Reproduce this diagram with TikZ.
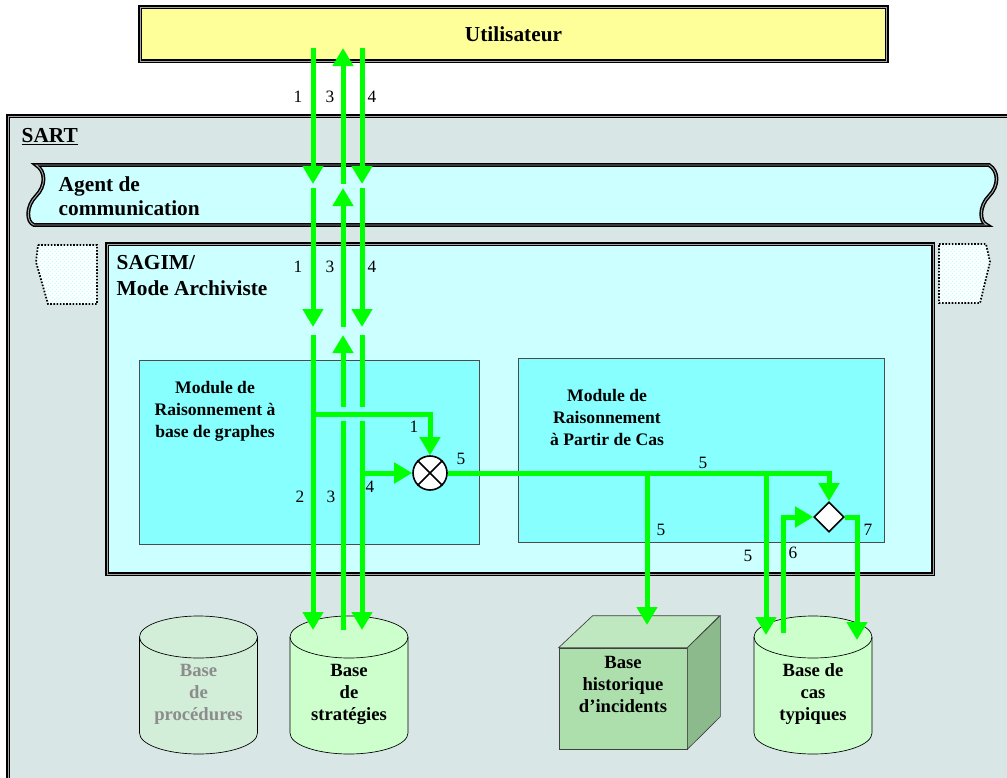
\documentclass[tikz,border=0pt]{standalone}
\usepackage{fontspec}
\setmainfont{Liberation Serif}
\usetikzlibrary{arrows.meta,shapes.geometric,patterns}
\definecolor{sartbg}{HTML}{D8E6E6}
\definecolor{pale}{HTML}{CCFFFF}
\definecolor{modbg}{HTML}{88FFFF}
\definecolor{userbg}{HTML}{FFFF99}
\definecolor{flowgreen}{HTML}{00FF00}
\definecolor{dbgreen}{HTML}{CCFFCC}
\definecolor{dbfaded}{HTML}{D2EED8}
\definecolor{textfade}{HTML}{8C8C8C}
\definecolor{cubefront}{HTML}{ADDFAD}
\definecolor{cubetop}{HTML}{C0E8C0}
\definecolor{cubeside}{HTML}{8CBA8C}

\begin{document}
\begin{tikzpicture}[x=0.75pt,y=-0.75pt,>={Triangle[width=15pt,length=13.5pt]},
  frame/.style={draw=black,double=gray!70,double distance=0.7pt,line width=1.1pt},
  box/.style={rectangle,inner sep=0pt},
  module/.style={box,draw=gray!60!black,line width=0.6pt,fill=modbg},
  flow/.style={->,draw=flowgreen,line width=3.75pt},
  hatch/.style={draw=black,dash pattern=on 1.2pt off 1.2pt,line width=1.3pt,preaction={fill=white},pattern=north east lines,pattern color=cyan!30},
  num/.style={font=\fontsize{13}{15}\selectfont},
  title/.style={font=\fontsize{16}{18}\selectfont\bfseries,align=left},
  modtext/.style={font=\fontsize{13.2}{16.5}\selectfont\bfseries,align=center},
  dbtext/.style={font=\fontsize{14}{16.5}\selectfont\bfseries,align=center}]

\useasboundingbox (0,0) rectangle (1007,778);

\node[box,frame,fill=sartbg,minimum width=759pt,minimum height=499.5pt] (sart) at (514,449) {};
\node[title,anchor=west] (sartlbl) at (17,137) {\underline{SART}};

\filldraw[frame,fill=pale] (36,165) -- (989,165) .. controls (999,171) and (999,186) .. (989,196)
  .. controls (979,206) and (979,222) .. (987,225) -- (34,225) .. controls (26,222) and (26,206) .. (36,196)
  .. controls (46,186) and (46,171) .. (36,165) -- cycle;
\node[title,anchor=west] (agent) at (54,196) {Agent de\\communication};

\draw[hatch] (38,245) -- (97,245) -- (97,304) -- (48,304) -- (36,262) -- cycle;
\draw[hatch] (939,244) -- (986,244) -- (990,262) -- (980,303) -- (939,303) -- cycle;

\node[box,frame,fill=pale,minimum width=619.5pt,minimum height=247.5pt] (sagim) at (520,409) {};
\node[title,anchor=west,font=\fontsize{16}{19.5}\selectfont\bfseries] (sagimlbl) at (112,276) {SAGIM/\\Mode Archiviste};

\node[module,minimum width=255pt,minimum height=138pt] (mrg) at (309,452) {};
\node[modtext] (mrgtxt) at (215,411) {Module de\\Raisonnement à\\base de graphes};
\node[module,minimum width=274.5pt,minimum height=138pt] (mrc) at (701,450) {};
\node[modtext] (mrctxt) at (607,417) {Module de\\Raisonnement\\à Partir de Cas};

\foreach \nm/\cx/\fc/\tc/\txt in {proc/198.5/dbfaded/textfade/{Base\\de\\procédures},
    strat/349/dbgreen/black/{Base\\de\\stratégies},cas/813/dbgreen/black/{Base de\\cas\\typiques}}{
  \filldraw[fill=\fc,draw=black,line width=0.5pt] ({\cx-59},637) -- ({\cx-59},733)
    arc[start angle=180,end angle=0,x radius=59,y radius=21] -- ({\cx+59},637)
    arc[start angle=0,end angle=-180,x radius=59,y radius=21] -- cycle;
  \draw[line width=0.5pt] ({\cx-59},637) arc[start angle=180,end angle=0,x radius=59,y radius=21];
  \node[dbtext,text=\tc] (\nm) at (\cx,694) {\txt};
}

\node[box,draw=gray!50!black,line width=0.5pt,fill=cubefront,minimum width=96pt,minimum height=75.75pt] (hist) at (623,698.5) {};
\filldraw[fill=cubetop,draw=gray!50!black,line width=0.5pt] (hist.north west) -- ++(34,-32) -- ++(127,0) -- (hist.north east) -- cycle;
\filldraw[fill=cubeside,draw=gray!50!black,line width=0.5pt] (hist.north east) -- ++(33,-32) -- ++(0,101) -- (hist.south east) -- cycle;
\node[dbtext] (histtxt) at (623,684) {Base\\historique\\d’incidents};

\node[box,frame,fill=userbg,minimum width=560pt,minimum height=40.5pt,font=\fontsize{16}{18}\selectfont\bfseries] (user) at (513.5,34) {Utilisateur};

\node[circle,draw,fill=white,line width=1.2pt,minimum size=25.5pt,inner sep=0pt] (mix) at (430,473) {};
\draw[line width=1.2pt] (mix.north west) -- (mix.south east) (mix.north east) -- (mix.south west);
\node[diamond,draw,fill=white,line width=1.2pt,minimum width=22.5pt,minimum height=22.5pt,inner sep=0pt] (dia) at (829,517) {};

\foreach \c/\x in {1/313,3/343,4/362}{
  \coordinate (t\c) at (\x,48);
  \coordinate (u\c) at (\x,184);
  \coordinate (v\c) at (\x,188);
  \coordinate (w\c) at (\x,327);
  \coordinate (y\c) at (\x,335);
  \coordinate (z\c) at (\x,630);
}
\coordinate (j1) at (313,414);
\coordinate (j4) at (362,473);
\coordinate (h5) at (647,625);
\coordinate (k5) at (766,635);
\coordinate (s6) at (783,633);
\coordinate (e7) at (857,640);

\draw[flow] (t1) -- (u1);
\draw[flow] (u3) -- (t3);
\draw[flow] (t4) -- (u4);
\draw[flow] (v1) -- (w1);
\draw[flow] (w3) -- (v3);
\draw[flow] (v4) -- (w4);
\draw[flow] (z3) -- (y3);
\draw[flow] (y4) -- (z4);
\draw[flow,preaction={draw=modbg,line width=10.5pt}] (j1) -| (mix);
\draw[flow] (y1) -- (z1);
\draw[flow] (j4) -- (mix);
\draw[flow] (mix) -| (dia);
\draw[flow] (h5 |- mix) -- (h5);
\draw[flow] (k5 |- mix) -- (k5);
\draw[flow] (s6) |- (dia);
\draw[flow] (dia) -| (e7);

\foreach \t/\x/\y [count=\i] in {1/298/97,3/330/97,4/372/97,1/298/267,3/330/267,4/372/267,
    1/414/427,2/300/497,3/331/497,4/370/487,5/461/459,5/703/463,5/661/530,5/748/556,6/793/553,7/868/530}
  \node[num] (lab\i) at (\x,\y) {\t};

\end{tikzpicture}
\end{document}
